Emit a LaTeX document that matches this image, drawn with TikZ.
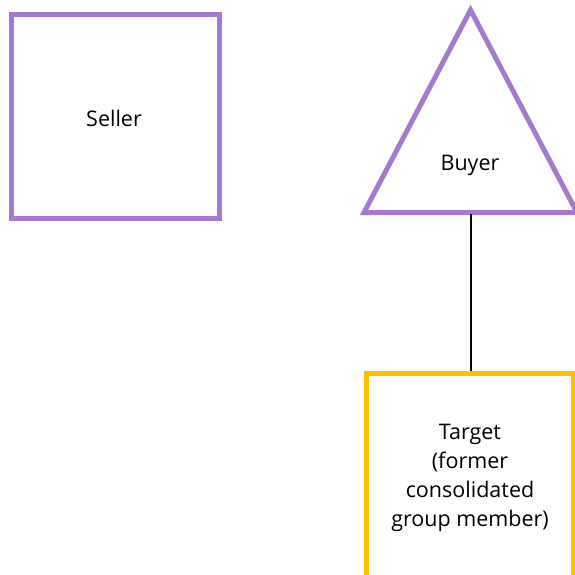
\documentclass[tikz,border=0pt]{standalone}
\usepackage{fontspec}
\setmainfont{Open Sans}
\definecolor{ppl}{HTML}{A47ACF}
\definecolor{ylw}{HTML}{FFC000}
\begin{document}
\begin{tikzpicture}[x=1pt,y=-1pt,
  lbl/.style={font=\fontsize{21.5}{29}\selectfont, align=center, text=black, inner sep=0pt},
  shapeline/.style={line width=5pt, line join=miter}]
\useasboundingbox (0,0) rectangle (575,574);
\clip (0,0) rectangle (575,574);
% Seller
\draw[shapeline, draw=ppl] (11.5,14.5) rectangle (219.5,218.5);
\node[lbl] (seller) at (114,118) {Seller};
% Buyer triangle
\draw[shapeline, draw=ppl] (470.5,10) -- (364,212.5) -- (577,212.5) -- cycle;
\node[lbl] (buyer) at (470,165) {Buyer};
\coordinate (buyerbase) at (470.5,214);
% Target
\draw[shapeline, draw=ylw] (366.5,373.5) rectangle (573,590);
\node[lbl] (target) at (470,478) {Target\\(former\\consolidated\\group member)};
\coordinate (targettop) at (470.5,371);
\draw[line width=2pt] (buyerbase) -- (targettop);
\end{tikzpicture}
\end{document}
